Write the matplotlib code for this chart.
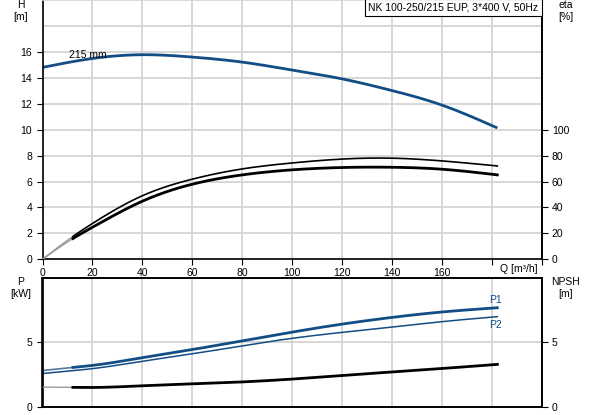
import matplotlib
matplotlib.use("Agg")
import matplotlib.pyplot as plt
import numpy as np

plt.rcParams['font.family'] = ['Liberation Sans', 'DejaVu Sans']

# ---- data ----
q_h = [0, 20, 40, 60, 80, 100, 120, 140, 160, 182.3]
h_vals = [14.8, 15.49, 15.78, 15.6, 15.21, 14.6, 13.92, 13.02, 11.9, 10.13]

q_eta = [0, 12, 20, 40, 60, 80, 100, 120, 140, 160, 182.3]
eta_upper = [0, 17.4, 27.6, 49.0, 61.8, 69.7, 74.3, 77.3, 78.0, 75.9, 72.0]
eta_lower = [0, 15.8, 24.7, 44.8, 57.9, 65.1, 69.0, 70.8, 71.0, 69.5, 65.1]

q_p = [0, 12, 20, 40, 60, 80, 100, 120, 140, 160, 182.3]
p1_vals = [2.8, 3.04, 3.2, 3.8, 4.43, 5.1, 5.78, 6.4, 6.92, 7.34, 7.67]
p2_vals = [2.57, 2.79, 2.95, 3.52, 4.1, 4.72, 5.30, 5.76, 6.17, 6.59, 6.98]
npsh_vals = [1.52, 1.50, 1.49, 1.62, 1.77, 1.92, 2.14, 2.42, 2.69, 2.96, 3.28]

q_ticks = [0, 20, 40, 60, 80, 100, 120, 140, 160]
h_ticks = [0, 2, 4, 6, 8, 10, 12, 14, 16]
eta_ticks = [0, 20, 40, 60, 80, 100]
p_ticks = [0, 5]
npsh_ticks = [0, 5]

title = "NK 100-250/215 EUP, 3*400 V, 50Hz"
blue = '#134d86'
grid_c = '#d4d4d4'
q_start = 12
FS = 7.5


def spline(xs, ys, n=300):
    """Natural cubic spline through the read points (for smooth drawing)."""
    x = np.asarray(xs, float)
    y = np.asarray(ys, float)
    k = len(x)
    h = np.diff(x)
    A = np.zeros((k, k))
    b = np.zeros(k)
    A[0, 0] = A[-1, -1] = 1
    for i in range(1, k - 1):
        A[i, i - 1] = h[i - 1]
        A[i, i] = 2 * (h[i - 1] + h[i])
        A[i, i + 1] = h[i]
        b[i] = 3 * ((y[i + 1] - y[i]) / h[i] - (y[i] - y[i - 1]) / h[i - 1])
    c = np.linalg.solve(A, b)
    xx = np.linspace(x[0], x[-1], n)
    idx = np.clip(np.searchsorted(x, xx, side='right') - 1, 0, k - 2)
    dx = xx - x[idx]
    bb = (y[idx + 1] - y[idx]) / h[idx] - h[idx] * (2 * c[idx] + c[idx + 1]) / 3
    dd = (c[idx + 1] - c[idx]) / (3 * h[idx])
    yy = y[idx] + bb * dx + c[idx] * dx ** 2 + dd * dx ** 3
    return xx, yy


fig = plt.figure(figsize=(5.93, 4.15), dpi=100)
W, H = 593, 415
l, r = 42.5, 541.5
ax1 = fig.add_axes([l / W, 1 - 259.3 / H, (r - l) / W, 259.3 / H])
ax2 = fig.add_axes([l / W, 1 - 406.7 / H, (r - l) / W, (406.7 - 277.7) / H])

for ax in (ax1, ax2):
    ax.set_xlim(0, 200)
    ax.set_xticks(list(range(0, 201, 20)))
    ax.grid(True, which='both', color=grid_c, linewidth=1.3)
    ax.set_axisbelow(True)
    for s in ax.spines.values():
        s.set_color('black')
        s.set_linewidth(1.2)
    ax.tick_params(labelsize=FS, length=4, width=0.8, colors='black')
    ax.tick_params(which='minor', length=0)

# ---- top axes ----
ax1.set_ylim(0, 20)
ax1.set_yticks(h_ticks)
ax1.set_yticks([18], minor=True)
ax1.set_xticklabels([str(v) if v in q_ticks else '' for v in range(0, 201, 20)])
ax1.spines['top'].set_color(grid_c)
ax1.tick_params(axis='x', pad=2)

x, y = spline(q_h, h_vals)
ax1.plot(x, y, color=blue, linewidth=2.0, solid_capstyle='butt')
ax1.text(10.5, 15.75, "215 mm", fontsize=FS, va='center', ha='left')

ax1r = ax1.twinx()
ax1r.set_position(ax1.get_position())
ax1r.set_ylim(0, 200)
ax1r.set_yticks(eta_ticks)
ax1r.tick_params(labelsize=FS, length=4, width=0.8)
for s in ax1r.spines.values():
    s.set_visible(False)
ax1r.spines['right'].set_visible(True)
ax1r.spines['right'].set_linewidth(1.2)

x, y = spline(q_eta, eta_upper)
m = x >= q_start
ax1r.plot(x[~m], y[~m], color='#999999', linewidth=1.0)
ax1r.plot(x[m], y[m], color='black', linewidth=1.2)
x, y = spline(q_eta, eta_lower)
m = x >= q_start
ax1r.plot(x[~m], y[~m], color='#999999', linewidth=1.0)
ax1r.plot(x[m], y[m], color='black', linewidth=2.0)


def label(xp, yp, s, **kw):
    fig.text(xp / W, 1 - yp / H, s, fontsize=FS, ha='center', va='baseline', **kw)


label(21, 8.5, "H")
label(21, 20.5, "[m]")
label(566, 8.5, "eta")
label(566, 20.5, "[%]")
label(519, 272.5, "Q [m³/h]")
label(21, 285, "P")
label(21, 297, "[kW]")
label(566, 285, "NPSH")
label(566, 297, "[m]")
fig.text(538.5 / W, 1 - 7.5 / H, title, fontsize=FS, ha='right', va='center',
         bbox=dict(boxstyle='square,pad=0.3', facecolor='white', edgecolor='black', linewidth=0.8))

# ---- bottom axes ----
ax2.set_ylim(0, 10)
ax2.set_yticks(p_ticks)
ax2.set_xticklabels([])
ax2.tick_params(axis='x', length=0)

x, y = spline(q_p, p1_vals)
m = x >= q_start
ax2.plot(x[~m], y[~m], color=blue, linewidth=1.2, alpha=0.75)
ax2.plot(x[m], y[m], color=blue, linewidth=2.0)
x, y = spline(q_p, p2_vals)
ax2.plot(x, y, color=blue, linewidth=1.1)
ax2.text(179.2, 7.85, "P1", fontsize=FS, color=blue, ha='left', va='bottom')
ax2.text(179.2, 6.75, "P2", fontsize=FS, color=blue, ha='left', va='top')

ax2r = ax2.twinx()
ax2r.set_position(ax2.get_position())
ax2r.set_ylim(0, 10)
ax2r.set_yticks(npsh_ticks)
ax2r.tick_params(labelsize=FS, length=4, width=0.8)
for s in ax2r.spines.values():
    s.set_linewidth(1.2)
x, y = spline(q_p, npsh_vals)
m = x >= q_start
ax2r.plot(x[~m], y[~m], color='#999999', linewidth=1.0)
ax2r.plot(x[m], y[m], color='black', linewidth=2.0)

fig.savefig("out.png", dpi=100)
